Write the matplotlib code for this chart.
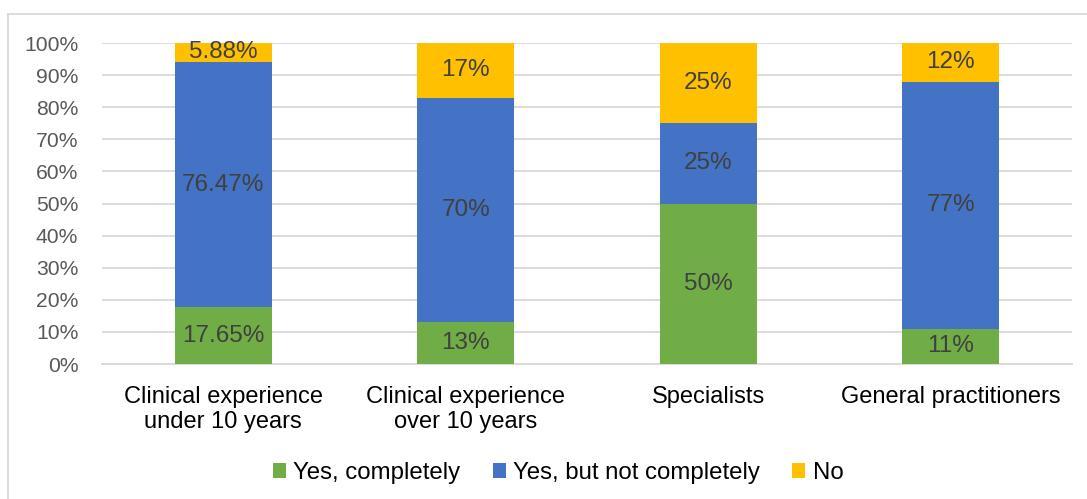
import matplotlib.pyplot as plt
from matplotlib.lines import Line2D
import numpy as np

plt.rcParams['font.family'] = ['Liberation Sans', 'DejaVu Sans']

categories = ["Clinical experience\nunder 10 years", "Clinical experience\nover 10 years",
              "Specialists", "General practitioners"]
series = ["Yes, completely", "Yes, but not completely", "No"]
yes_full = [17.65, 13, 50, 11]
yes_partial = [76.47, 70, 25, 77]
no = [5.88, 17, 25, 12]
labels = [
    ["17.65%", "13%", "50%", "11%"],
    ["76.47%", "70%", "25%", "77%"],
    ["5.88%", "17%", "25%", "12%"],
]
colors = ["#70AD47", "#4472C4", "#FFC000"]

fig = plt.figure(figsize=(10.87, 4.99), dpi=100)
ax = fig.add_axes([0.0938, 0.2705, 0.8924, 0.6433])

x = np.arange(len(categories))
bottom = np.zeros(len(categories))
for vals, col, name, labs in zip([yes_full, yes_partial, no], colors, series, labels):
    vals = np.array(vals, dtype=float)
    ax.bar(x, vals, 0.4, bottom=bottom, color=col, label=name, zorder=3)
    for xi, b, v, t in zip(x, bottom, vals, labs):
        ax.text(xi, b + v / 2, t, ha="center", va="center", fontsize=17.5,
                color="#404040", zorder=4)
    bottom += vals

ax.set_xlim(-0.5, 3.5)
ax.set_ylim(0, 100)
ax.set_yticks(np.arange(0, 101, 10))
ax.set_yticklabels([f"{v}%" for v in range(0, 101, 10)])
ax.set_xticks(x)
ax.set_xticklabels(categories, linespacing=1.15)
ax.tick_params(axis="y", length=0, labelsize=15.2, labelcolor="#595959", pad=17)
ax.tick_params(axis="x", length=0, labelsize=17, labelcolor="#000000", pad=16)
ax.grid(axis="y", color="#D9D9D9", linewidth=1.3, zorder=0)
for s in ["top", "right", "left"]:
    ax.spines[s].set_visible(False)
ax.spines["bottom"].set_color("#D9D9D9")
ax.spines["bottom"].set_linewidth(1.3)

ax.legend(loc="center", bbox_to_anchor=(558 / 1087, 1 - 473 / 499), bbox_transform=fig.transFigure,
          ncol=3, frameon=False, fontsize=17.3, handlelength=0.55, handleheight=0.55,
          handletextpad=0.3, columnspacing=1.35, borderpad=0)

# chart frame (left and top edges)
fig.add_artist(Line2D([8 / 1087, 8 / 1087], [0, 1 - 14 / 499], transform=fig.transFigure,
                      color="#D9D9D9", linewidth=1.3))
fig.add_artist(Line2D([8 / 1087, 1], [1 - 14 / 499, 1 - 14 / 499], transform=fig.transFigure,
                      color="#D9D9D9", linewidth=1.3))

fig.savefig("out.png", dpi=100)
